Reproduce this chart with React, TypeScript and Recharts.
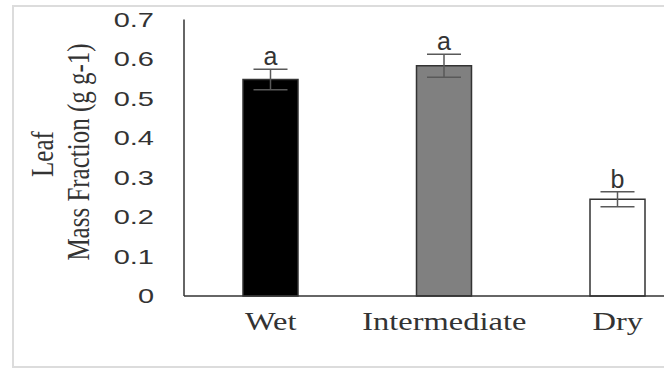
import React from 'react';
import { ComposedChart, Bar, XAxis, YAxis, ErrorBar, Cell, LabelList } from 'recharts';

const categories = ['Wet', 'Intermediate', 'Dry'];
const values = [0.548, 0.583, 0.245];
const errors = [0.026, 0.029, 0.019];
const letters = ['a', 'a', 'b'];
const yTicks = [0, 0.1, 0.2, 0.3, 0.4, 0.5, 0.6, 0.7];
const fills = ['#000000', '#808080', '#ffffff'];

const data = categories.map((c, i) => ({ name: c, value: values[i], err: errors[i], sig: letters[i] }));

const YTick = (props: any) => {
  const { x, y, payload } = props;
  return (
    <g transform={`translate(${x},${y}) scale(1.45,1)`}>
      <text x={0} y={0} dy={7} textAnchor="end" fontFamily="Liberation Sans, Arial, sans-serif" fontSize={20} fill="#333">
        {String(payload.value)}
      </text>
    </g>
  );
};

const XTick = (props: any) => {
  const { x, y, payload } = props;
  return (
    <g transform={`translate(${x},${y}) scale(1.3,1)`}>
      <text x={0} y={0} dy={26} textAnchor="middle" fontFamily="Liberation Serif, Times New Roman, serif" fontSize={25} fill="#333">
        {payload.value}
      </text>
    </g>
  );
};

const SigLabel = (props: any) => {
  const { x, y, width, height, value, index } = props;
  const v = values[index];
  const errPx = (height * errors[index]) / v;
  return (
    <text x={x + width / 2} y={y - errPx - 4} textAnchor="middle" fontFamily="Liberation Sans, Arial, sans-serif" fontSize={25} fill="#333">
      {value}
    </text>
  );
};

export default function App() {
  return (
    <div style={{ position: 'absolute', left: 0, top: 0, width: 664, height: 368, overflow: 'hidden', background: '#fff' }}>
      <div style={{ position: 'absolute', left: 12, top: 5, width: 700, height: 359, border: '2px solid #dcdcdc' }} />
      <div style={{ position: 'absolute', left: 0, top: 0 }}>
        <ComposedChart width={720} height={368} data={data} margin={{ top: 19.5, right: 15.5, bottom: 42, left: 124 }}>
          <XAxis dataKey="name" height={30} axisLine={{ stroke: '#333', strokeWidth: 1.5 }} tickLine={false} tick={<XTick />} interval={0} />
          <YAxis
            width={60}
            domain={[0, 0.7]}
            ticks={yTicks}
            axisLine={{ stroke: '#333', strokeWidth: 1.5 }}
            tickLine={false}
            tickSize={0}
            tickMargin={30}
            tick={<YTick />}
          />
          <Bar dataKey="value" barSize={55} isAnimationActive={false} stroke="#333" strokeWidth={1.5}>
            {data.map((d, i) => (
              <Cell key={d.name} fill={fills[i]} />
            ))}
            <ErrorBar dataKey="err" width={17} stroke="#595959" strokeWidth={1.5} />
            <LabelList dataKey="sig" content={<SigLabel />} />
          </Bar>
        </ComposedChart>
      </div>
      <svg width={664} height={368} style={{ position: 'absolute', left: 0, top: 0, pointerEvents: 'none' }}>
        <g transform="translate(53,154) rotate(-90) scale(1,1.25)">
          <text x={0} y={0} textAnchor="middle" fontFamily="Liberation Serif, Times New Roman, serif" fontSize={25} fill="#333">Leaf</text>
        </g>
        <g transform="translate(89,152) rotate(-90) scale(1,1.25)">
          <text x={0} y={0} textAnchor="middle" fontFamily="Liberation Serif, Times New Roman, serif" fontSize={25} fill="#333">Mass Fraction (g g-1)</text>
        </g>
      </svg>
    </div>
  );
}
